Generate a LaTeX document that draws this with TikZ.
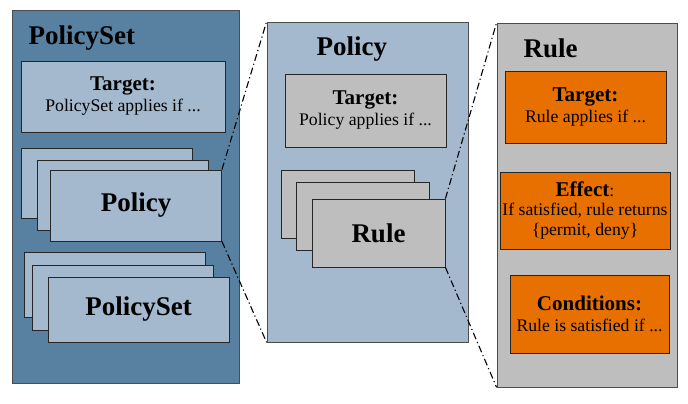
\documentclass[tikz,border=0pt]{standalone}
\usepackage{fontspec}
\setmainfont{LiberationSerif}[Extension=.ttf,UprightFont=*-Regular,BoldFont=*-Bold,ItalicFont=*-Italic,BoldItalicFont=*-BoldItalic]

\definecolor{setblue}{HTML}{5881A1}
\definecolor{polblue}{HTML}{A4B8CE}
\definecolor{rulegray}{HTML}{BEBEBE}
\definecolor{condorange}{HTML}{E87000}

\newcommand{\bigfont}{\rmfamily\fontsize{27}{30}\selectfont\bfseries}
\newcommand{\headfont}{\rmfamily\fontsize{21}{21}\selectfont\bfseries}
\newcommand{\smallfont}{\rmfamily\fontsize{17.7}{21}\selectfont}

\begin{document}
\begin{tikzpicture}[x=1pt,y=-1pt,
  panel/.style={draw=black!70,line width=0.8pt,inner sep=0pt},
  card/.style={draw=black!85,line width=0.9pt,inner sep=0pt,align=center,font=\smallfont},
  size/.style 2 args={minimum width=#1,minimum height=#2},
  zoomline/.style={line width=1.1pt,dash pattern=on 7pt off 3pt on 1.2pt off 3pt}]
  \useasboundingbox (0,0) rectangle (688,404);

  % the three panels
  \node[panel,fill=setblue,size={227}{373}] (setpanel) at (125.5,196.5) {};
  \node[panel,fill=polblue,size={201}{320}] (polpanel) at (367.5,182) {};
  \node[panel,fill=rulegray,size={180}{364}] (rulepanel) at (587,205) {};

  \node[anchor=base west,font=\bigfont] (settitle) at (25,45) {PolicySet};
  \node[anchor=base west,font=\bigfont] (poltitle) at (313,56) {Policy};
  \node[anchor=base west,font=\bigfont] (ruletitle) at (520,58) {Rule};

  % PolicySet panel
  \node[card,fill=polblue,size={204}{71}] (settarget) at (123,96.5)
    {{\headfont Target:}\\PolicySet applies if ...};
  \foreach \n/\x/\y in {a/107/183, b/123/195.5}
    \node[card,fill=polblue,size={171}{70}] (pol\n) at (\x,\y) {};
  \node[card,fill=polblue,size={171}{71},font=\bigfont] (pol) at (136,205.5) {Policy};
  \foreach \n/\x/\y in {a/114.5/284.5, b/122.5/298}
    \node[card,fill=polblue,size={181}{65}] (set\n) at (\x,\y) {};
  \node[card,fill=polblue,size={181}{65},font=\bigfont] (set) at (138.5,309.5) {PolicySet};

  % Policy panel
  \node[card,fill=rulegray,size={161}{73}] (poltarget) at (365.5,110.5)
    {{\headfont Target:}\\Policy applies if ...};
  \foreach \n/\x/\y in {a/347.5/204, b/362.5/216}
    \node[card,fill=rulegray,size={133}{68}] (rule\n) at (\x,\y) {};
  \node[card,fill=rulegray,size={133}{68},font=\bigfont] (rule) at (378.5,233) {Rule};

  % Rule panel
  \node[card,fill=condorange,size={161}{72}] (ruletarget) at (585.5,107)
    {{\headfont Target:}\\Rule applies if ...};
  \node[card,fill=condorange,size={170}{77},font=\rmfamily\fontsize{17.7}{19.5}\selectfont] (effect) at (585,210.5)
    {{\headfont Effect}:\\If satisfied, rule returns\\\{permit, deny\}};
  \node[card,fill=condorange,size={159}{78}] (cond) at (589.5,314)
    {{\headfont Conditions:}\\Rule is satisfied if ...};

  % zoom lines
  \draw[zoomline] (pol.north east) -- (polpanel.north west);
  \draw[zoomline] (pol.south east) -- (polpanel.south west);
  \draw[zoomline] (rule.north east) -- (rulepanel.north west);
  \draw[zoomline] (rule.south east) -- (rulepanel.south west);
\end{tikzpicture}
\end{document}
